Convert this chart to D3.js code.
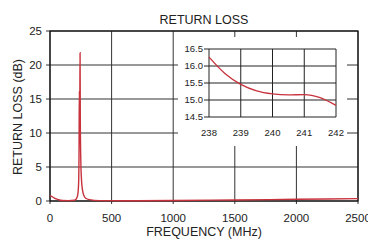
<!DOCTYPE html>
<html>
<head>
<meta charset="utf-8">
<script src="https://cdn.jsdelivr.net/npm/d3@7"></script>
<style>
body { margin: 0; background: #fff; }
text { font-family: "Liberation Sans", Arial, sans-serif; fill: #222; }
</style>
</head>
<body>
<script>
// main curve: frequency (MHz) vs return loss (dB)
var freqMHz = [0, 25, 50, 75, 100, 150, 200, 215, 225, 232, 236, 238, 240, 242, 244, 246, 250, 256, 264, 275, 290, 320, 400, 600, 1000, 1500, 2000, 2500];
var lossDb  = [0.8, 0.55, 0.3, 0.15, 0.07, 0.05, 0.12, 0.35, 0.9, 2.5, 8, 16.2, 15.2, 14.8, 21.8, 12, 6, 3, 1.6, 0.8, 0.4, 0.2, 0.06, 0.04, 0.08, 0.15, 0.25, 0.35];

// zoomed inset 238..242 MHz
var insetFreq = [238, 238.5, 239, 239.5, 240, 240.5, 241, 241.5, 242];
var insetLoss = [16.26, 15.78, 15.46, 15.27, 15.18, 15.15, 15.16, 15.07, 14.84];

var xTicks = [0, 500, 1000, 1500, 2000, 2500];
var yTicks = [0, 5, 10, 15, 20, 25];
var insetXTicks = [238, 239, 240, 241, 242];
var insetYTicks = [14.5, 15.0, 15.5, 16.0, 16.5];

var width = 368,
    height = 241;

var svg = d3.select("body")
    .append("svg")
    .attr("width", width)
    .attr("height", height);

var red = "#c8323c";

var x = d3.scaleLinear().domain([0, 2500]).range([50, 358]);
var y = d3.scaleLinear().domain([0, 25]).range([201, 31]);

// grid lines
svg.append("g")
    .selectAll("line.vg")
    .data(xTicks)
    .enter().append("line")
    .attr("x1", function(d) { return x(d); })
    .attr("x2", function(d) { return x(d); })
    .attr("y1", y(25))
    .attr("y2", y(0) + 3)
    .attr("stroke", "#333")
    .attr("stroke-width", 1);

svg.append("g")
    .selectAll("line.hg")
    .data(yTicks)
    .enter().append("line")
    .attr("x1", x(0) - 4)
    .attr("x2", x(2500))
    .attr("y1", function(d) { return y(d); })
    .attr("y2", function(d) { return y(d); })
    .attr("stroke", "#333")
    .attr("stroke-width", 1);

// frame
svg.append("rect")
    .attr("x", x(0))
    .attr("y", y(25))
    .attr("width", x(2500) - x(0))
    .attr("height", y(0) - y(25))
    .attr("fill", "none")
    .attr("stroke", "#111")
    .attr("stroke-width", 1.2);

// tick labels
svg.append("g")
    .selectAll("text")
    .data(yTicks)
    .enter().append("text")
    .attr("x", x(0) - 8)
    .attr("y", function(d) { return y(d); })
    .attr("dy", "0.35em")
    .attr("text-anchor", "end")
    .style("font-size", "11.5px")
    .text(function(d) { return d; });

svg.append("g")
    .selectAll("text")
    .data(xTicks)
    .enter().append("text")
    .attr("x", function(d) { return x(d); })
    .attr("y", 222)
    .attr("text-anchor", "middle")
    .style("font-size", "11.5px")
    .text(function(d) { return d; });

// main curve
var line = d3.line()
    .x(function(d) { return x(d[0]); })
    .y(function(d) { return y(d[1]); })
    .curve(d3.curveMonotoneX);

svg.append("path")
    .datum(d3.zip(freqMHz, lossDb))
    .attr("d", line)
    .attr("fill", "none")
    .attr("stroke", red)
    .attr("stroke-width", 1.4);

// titles
svg.append("text")
    .attr("x", 204)
    .attr("y", 24)
    .attr("text-anchor", "middle")
    .style("font-size", "12.5px")
    .text("RETURN LOSS");

svg.append("text")
    .attr("x", 204)
    .attr("y", 236)
    .attr("text-anchor", "middle")
    .style("font-size", "12.5px")
    .text("FREQUENCY (MHz)");

svg.append("text")
    .attr("transform", "translate(22,117) rotate(-90)")
    .attr("text-anchor", "middle")
    .style("font-size", "12.5px")
    .text("RETURN LOSS (dB)");

// inset panel
svg.append("rect")
    .attr("x", 178)
    .attr("y", 37)
    .attr("width", 169)
    .attr("height", 109)
    .attr("fill", "#fff");

var ix = d3.scaleLinear().domain([238, 242]).range([209, 336]);
var iy = d3.scaleLinear().domain([14.5, 16.5]).range([117, 49]);

svg.append("g")
    .selectAll("line")
    .data(insetXTicks)
    .enter().append("line")
    .attr("x1", function(d) { return ix(d); })
    .attr("x2", function(d) { return ix(d); })
    .attr("y1", iy(16.5))
    .attr("y2", iy(14.5))
    .attr("stroke", "#222")
    .attr("stroke-width", 1);

svg.append("g")
    .selectAll("line")
    .data(insetYTicks)
    .enter().append("line")
    .attr("x1", ix(238) - 5)
    .attr("x2", ix(242))
    .attr("y1", function(d) { return iy(d); })
    .attr("y2", function(d) { return iy(d); })
    .attr("stroke", "#222")
    .attr("stroke-width", 1);

svg.append("g")
    .selectAll("text")
    .data(insetYTicks)
    .enter().append("text")
    .attr("x", ix(238) - 6)
    .attr("y", function(d) { return iy(d); })
    .attr("dy", "0.35em")
    .attr("text-anchor", "end")
    .style("font-size", "9.5px")
    .text(function(d) { return d.toFixed(1); });

svg.append("g")
    .selectAll("text")
    .data(insetXTicks)
    .enter().append("text")
    .attr("x", function(d) { return ix(d); })
    .attr("y", 136)
    .attr("text-anchor", "middle")
    .style("font-size", "9.5px")
    .text(function(d) { return d; });

var insetLine = d3.line()
    .x(function(d) { return ix(d[0]); })
    .y(function(d) { return iy(d[1]); })
    .curve(d3.curveMonotoneX);

svg.append("path")
    .datum(d3.zip(insetFreq, insetLoss))
    .attr("d", insetLine)
    .attr("fill", "none")
    .attr("stroke", red)
    .attr("stroke-width", 1.3);
</script>
</body>
</html>
